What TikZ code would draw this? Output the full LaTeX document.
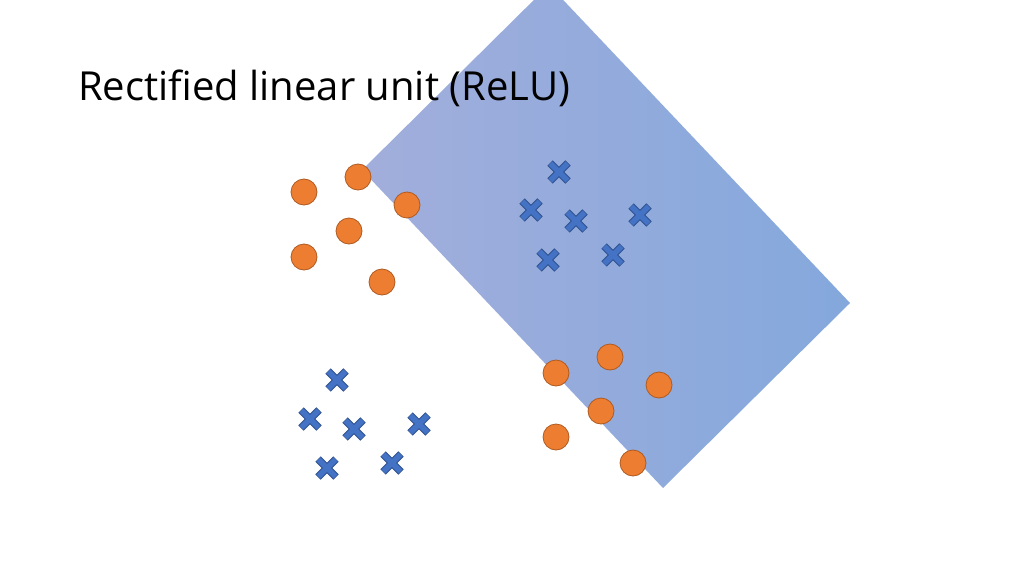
\documentclass[tikz,border=0pt]{standalone}
\usepackage{fontspec}
\setmainfont{Open Sans}
\begin{document}
\begin{tikzpicture}[x=1pt,y=-1pt,
  dot/.style={circle,minimum size=26pt,inner sep=0,fill=dotor,draw=dotedge,line width=0.8pt},
  xo/.style={draw=xedge,line width=7.5pt},
  xi/.style={draw=xfill,line width=5.5pt}]
\definecolor{dotor}{HTML}{ED7D31}
\definecolor{dotedge}{HTML}{AE5A21}
\definecolor{xfill}{HTML}{4472C4}
\definecolor{xedge}{HTML}{2F528F}
\useasboundingbox (0,0) rectangle (1024,575);
\begin{scope}
\clip (0,0) rectangle (1024,575);
\shade[shading angle=-45,left color={rgb,255:red,162;green,174;blue,220},right color={rgb,255:red,132;green,168;blue,220}]
 (362,170) coordinate (rl) -- (663,488) coordinate (rb) -- (850,303) coordinate (rr) -- (549,-15) coordinate (rt) -- cycle;
\end{scope}
\node[anchor=base west,font=\fontsize{40}{48}\selectfont,inner sep=0] (title) at (78,100) {Rectified linear unit (ReLU)};
\foreach \n/\x/\y in {c1/304/192,c2/358/177,c3/407/205,c4/349/231,c5/304/257,c6/382/282,c7/556/373,c8/610/357,c9/659/385,c10/601/411,c11/556/437,c12/633/463}
  \node[dot] (\n) at (\x,\y) {};
\foreach \x/\y in {559/172,531/210,576/221,640/215,548/260,613/255,337/380,310/419,354/429,419/424,327/468,392/463}{
  \draw[xo] (\x-9,\y-9) -- (\x+9,\y+9) (\x-9,\y+9) -- (\x+9,\y-9);
  \draw[xi] (\x-8.6,\y-8.6) -- (\x+8.6,\y+8.6) (\x-8.6,\y+8.6) -- (\x+8.6,\y-8.6);
}
\end{tikzpicture}
\end{document}
